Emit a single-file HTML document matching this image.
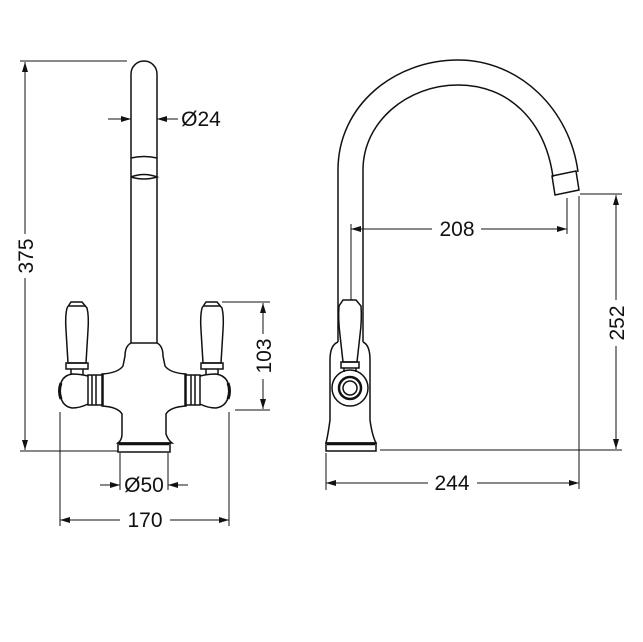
<!DOCTYPE html>
<html><head><meta charset="utf-8"><style>
html,body{margin:0;padding:0;background:#fff}
svg{display:block}
text{font-family:"Liberation Sans","DejaVu Sans",sans-serif;font-size:21px;fill:#111}
</style></head><body>
<svg width="643" height="642" viewBox="0 0 643 642" xmlns="http://www.w3.org/2000/svg">
<defs>
<marker id="a" viewBox="0 0 10 6" refX="10" refY="3" markerWidth="10" markerHeight="6" markerUnits="userSpaceOnUse" orient="auto-start-reverse"><path d="M0,0 L10,3 L0,6 z" fill="#111"/></marker>
</defs>
<g fill="none" stroke="#111" stroke-width="1">
<line x1="20" y1="61" x2="127" y2="61"/>
<line x1="20" y1="451" x2="118" y2="451"/>
<line x1="25" y1="62" x2="25" y2="234" marker-start="url(#a)"/>
<line x1="25" y1="278" x2="25" y2="450" marker-end="url(#a)"/>
<line x1="108" y1="119" x2="131" y2="119" marker-end="url(#a)"/>
<line x1="178" y1="119" x2="157" y2="119" marker-end="url(#a)"/>
<line x1="222" y1="302" x2="270" y2="302"/>
<line x1="235" y1="410" x2="270" y2="410"/>
<line x1="263" y1="303" x2="263" y2="334" marker-start="url(#a)"/>
<line x1="263" y1="379" x2="263" y2="409" marker-end="url(#a)"/>
<line x1="120" y1="453" x2="120" y2="490"/>
<line x1="168" y1="453" x2="168" y2="490"/>
<line x1="100" y1="485" x2="120" y2="485" marker-end="url(#a)"/>
<line x1="188" y1="485" x2="168" y2="485" marker-end="url(#a)"/>
<line x1="60" y1="412" x2="60" y2="526"/>
<line x1="229" y1="412" x2="229" y2="526"/>
<line x1="60" y1="520" x2="120" y2="520" marker-start="url(#a)"/>
<line x1="170" y1="520" x2="229" y2="520" marker-end="url(#a)"/>
</g>
<g fill="none" stroke="#111" stroke-width="1.5">
<path d="M131,343 L131,74 A13,13 0 0 1 157,74 L157,343"/>
<path d="M131,158 Q144,155 157,158"/>
<path d="M131,177 Q144,172 157,177 Q144,181 131,177"/>
<path d="M131,343 L157,343 Q163,346 163,356 L165,366 Q170,373 186,374 L186,406 Q170,407 166,414 L166,434 Q168,440 172,443 L118,443 Q122,440 122,434 L122,414 Q118,407 102,406 L102,374 Q118,373 123,366 L125,356 Q125,346 131,343 Z"/>
<rect x="118" y="443" width="52" height="9"/>
<line x1="119" y1="444" x2="169" y2="444" stroke-width="2.5"/>
<rect x="88" y="375" width="15" height="30"/>
<line x1="92" y1="375" x2="92" y2="405"/><line x1="96" y1="375" x2="96" y2="405"/>
<rect x="185" y="375" width="15" height="30"/>
<line x1="191" y1="375" x2="191" y2="405"/><line x1="195" y1="375" x2="195" y2="405"/>
<path d="M88,376 Q80,374 72,374 Q60,376 60,390 Q60,406 72,408 Q80,408 88,404"/>
<path d="M61,383 Q58,391 61,399" stroke-width="3"/>
<path d="M200,376 Q208,374 216,374 Q229,376 229,390 Q229,406 216,408 Q208,408 200,404"/>
<path d="M228,383 Q231,391 228,399" stroke-width="3"/>
<!-- left handle -->
<path d="M71,302 L82,302 L87,308 Q89,316 88,330 L86,363 L68,363 L66,330 Q65,316 67,308 Z"/>
<rect x="66" y="363" width="22" height="6"/>
<line x1="71" y1="369" x2="71" y2="375"/><line x1="83" y1="369" x2="83" y2="375"/>
<line x1="69" y1="306" x2="85" y2="306"/>
<!-- right handle -->
<path d="M206,302 L217,302 L222,308 Q224,316 223,330 L221,363 L203,363 L201,330 Q200,316 202,308 Z"/>
<rect x="201" y="363" width="22" height="6"/>
<line x1="206" y1="369" x2="206" y2="375"/><line x1="218" y1="369" x2="218" y2="375"/>
<line x1="204" y1="306" x2="220" y2="306"/>

<path d="M338,342 L338,170 C338,105 395,60 458,60 C520,60 570,110 578,172"/>
<path d="M363,342 L363,170 C363,122 407,85 458,85 C508,85 545,120 553,177"/>
<path d="M552,176 L576,171 L579,190 L555,195 Z"/>
<path d="M338,342 Q330,345 330,360 L330,420 Q328,435 326,443 L376,443 Q372,435 370,420 L370,360 Q370,345 363,342"/>
<rect x="326" y="443" width="50" height="8"/>
<line x1="327" y1="444" x2="375" y2="444" stroke-width="2.5"/>
<circle cx="350" cy="388" r="18"/>
<circle cx="350" cy="388" r="11" stroke-width="2.5"/>
<circle cx="350" cy="388" r="7"/>
<path d="M343,300 L356,300 L361,306 Q362,320 360,335 L357,362 L343,362 L340,335 Q338,320 339,306 Z"/>
<rect x="341" y="362" width="18" height="6"/>
<line x1="344" y1="368" x2="344" y2="372"/><line x1="356" y1="368" x2="356" y2="372"/>
</g>
<g fill="none" stroke="#111" stroke-width="1">
<line x1="351" y1="224" x2="351" y2="300"/>
<line x1="567" y1="198" x2="567" y2="234"/>
<line x1="351" y1="229" x2="432" y2="229" marker-start="url(#a)"/>
<line x1="481" y1="229" x2="567" y2="229" marker-end="url(#a)"/>
<line x1="580" y1="194" x2="622" y2="194"/>
<line x1="380" y1="450" x2="622" y2="450"/>
<line x1="616" y1="195" x2="616" y2="300" marker-start="url(#a)"/>
<line x1="616" y1="346" x2="616" y2="449" marker-end="url(#a)"/>
<line x1="579" y1="196" x2="579" y2="489"/>
<line x1="326" y1="453" x2="326" y2="490"/>
<line x1="326" y1="483" x2="428" y2="483" marker-start="url(#a)"/>
<line x1="477" y1="483" x2="579" y2="483" marker-end="url(#a)"/>
</g>
<text x="201" y="126" text-anchor="middle">Ø24</text>
<text x="144" y="492" text-anchor="middle">Ø50</text>
<text x="145" y="527" text-anchor="middle">170</text>
<text x="457" y="236" text-anchor="middle">208</text>
<text x="452" y="490" text-anchor="middle">244</text>
<text transform="translate(33,256) rotate(-90)" text-anchor="middle">375</text>
<text transform="translate(271,356) rotate(-90)" text-anchor="middle">103</text>
<text transform="translate(624,323) rotate(-90)" text-anchor="middle">252</text>
</svg>
</body></html>
